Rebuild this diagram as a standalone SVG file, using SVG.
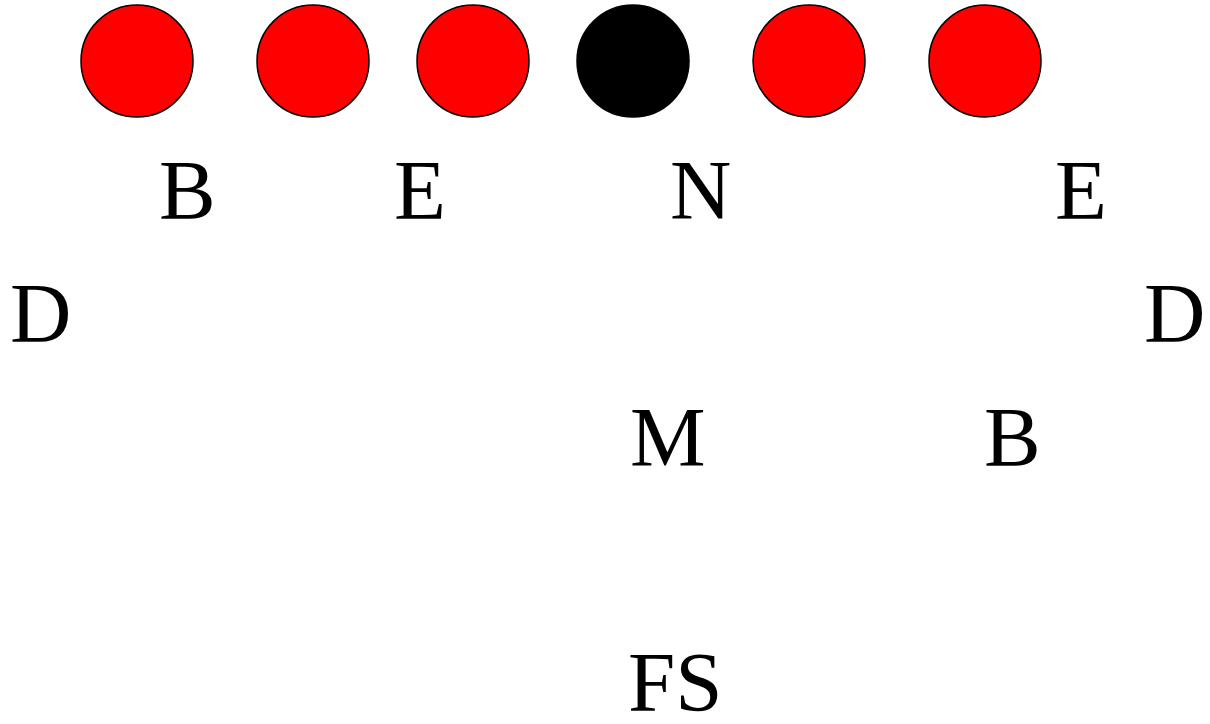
<svg xmlns="http://www.w3.org/2000/svg" width="1210" height="724" viewBox="0 0 1210 724">
<style>
.p{stroke:#000;stroke-width:1.5}
.r{fill:#ff0000}
.k{fill:#000}
.t{font-family:"Liberation Serif","Times New Roman",serif;font-size:85px;fill:#000}
</style>
<rect width="1210" height="724" fill="#fff"/>
<g id="connectors"></g>
<g id="p1"><circle class="p r" cx="137" cy="61" r="56"/></g>
<g id="p2"><circle class="p r" cx="313" cy="61" r="56"/></g>
<g id="p3"><circle class="p r" cx="473" cy="61" r="56"/></g>
<g id="p4"><circle class="p k" cx="633" cy="61" r="56"/></g>
<g id="p5"><circle class="p r" cx="809" cy="61" r="56"/></g>
<g id="p6"><circle class="p r" cx="985" cy="61" r="56"/></g>
<g id="lB1"><text class="t" x="159" y="219">B</text></g>
<g id="lE1"><text class="t" x="394" y="219">E</text></g>
<g id="lN"><text class="t" x="670" y="219">N</text></g>
<g id="lE2"><text class="t" x="1055" y="219">E</text></g>
<g id="lD1"><text class="t" x="10" y="342">D</text></g>
<g id="lD2"><text class="t" x="1144" y="342">D</text></g>
<g id="lM"><text class="t" x="630" y="466">M</text></g>
<g id="lB2"><text class="t" x="984" y="466">B</text></g>
<g id="lFS"><text class="t" x="628" y="711">FS</text></g>
</svg>
